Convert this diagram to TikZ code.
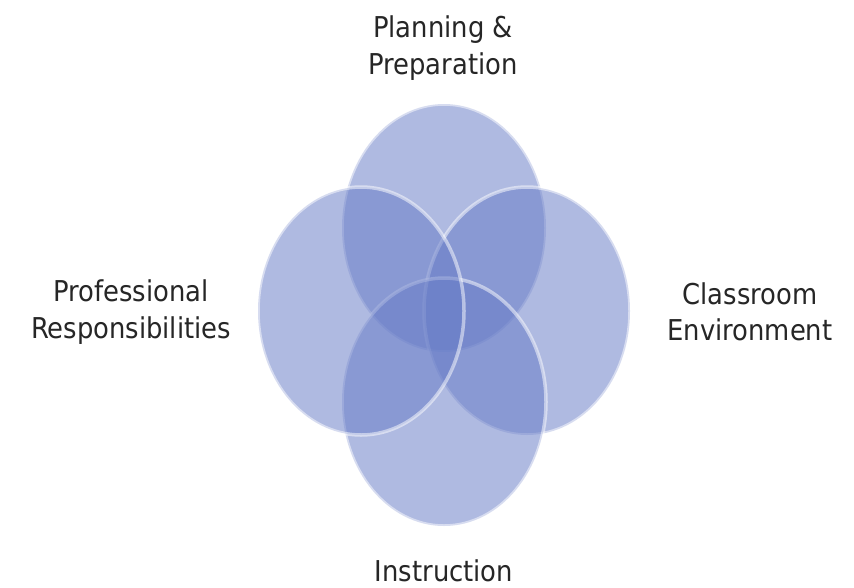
\documentclass[tikz,border=0pt]{standalone}
\usepackage{fontspec}
\setmainfont{DejaVu Sans Condensed}
\definecolor{petal}{RGB}{103,124,199}
\begin{document}
\begin{tikzpicture}[x=1pt,y=-1pt,
  petalshape/.style={fill=petal,fill opacity=0.52,draw=white,draw opacity=0.5,line width=3.5pt},
  lab/.style={align=center,font=\fontsize{28.7}{36.5}\selectfont,text=black!85}]
\useasboundingbox (0,0) rectangle (854,587);
\fill[white] (0,0) rectangle (854,587);
\path[petalshape] (444,228) ellipse [x radius=102,y radius=124];
\path[petalshape] (527,311) ellipse [x radius=103,y radius=124];
\path[petalshape] (444,402) ellipse [x radius=102,y radius=124];
\path[petalshape] (361,311) ellipse [x radius=103,y radius=124];
\node[lab] (plan) at (443,48) {Planning \&\\Preparation};
\node[lab] (class) at (750,312) {Classroom\\Environment};
\node[lab] (instr) at (444,571) {Instruction};
\node[lab] (prof) at (131,312) {Professional\\Responsibilities};
\end{tikzpicture}
\end{document}
